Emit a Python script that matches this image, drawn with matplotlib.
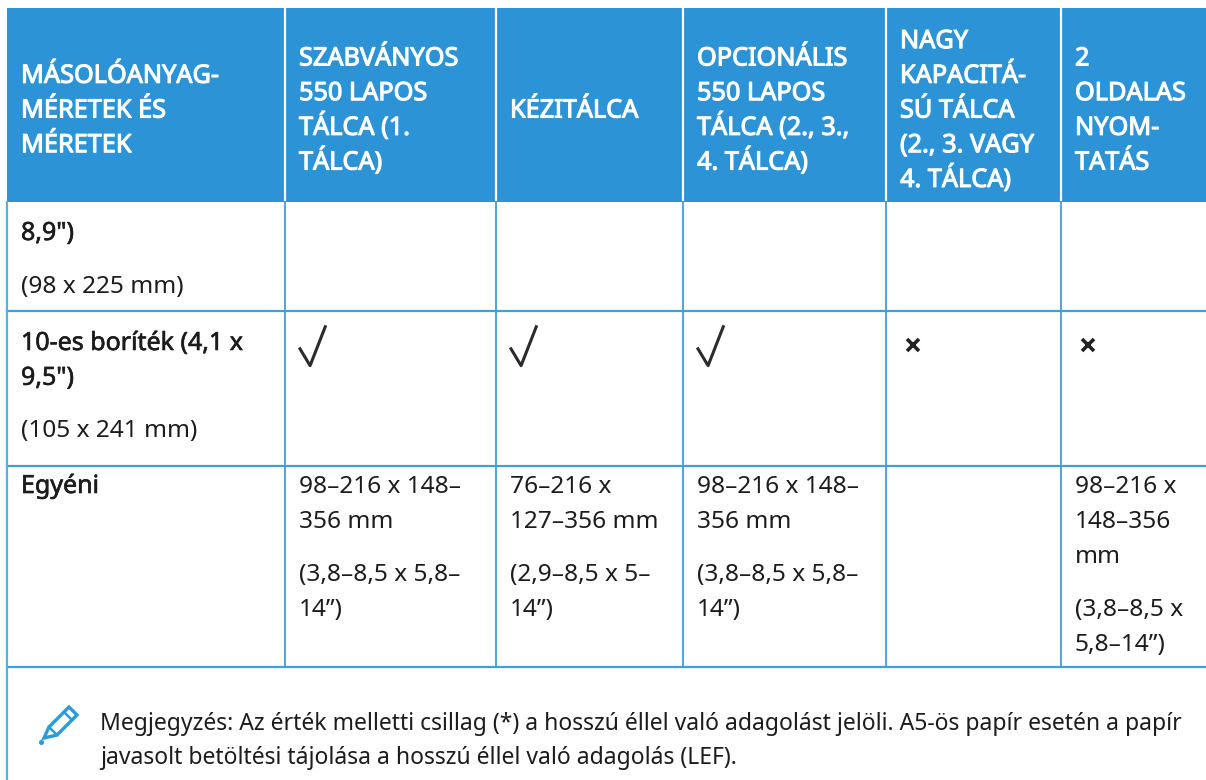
import matplotlib
matplotlib.use("Agg")
import matplotlib.pyplot as plt
import matplotlib.patches as patches
import matplotlib.patheffects as pe
from matplotlib.path import Path

plt.rcParams['font.family'] = ['Noto Sans', 'DejaVu Sans']

BLUE = '#2b93d6'
LINE = '#3f9edb'
INK = '#1c1c1c'

# table content
header_lines = [
    ["MÁSOLÓANYAG-", "MÉRETEK ÉS", "MÉRETEK"],
    ["SZABVÁNYOS", "550 LAPOS", "TÁLCA (1.", "TÁLCA)"],
    ["KÉZITÁLCA"],
    ["OPCIONÁLIS", "550 LAPOS", "TÁLCA (2., 3.,", "4. TÁLCA)"],
    ["NAGY", "KAPACITÁ-", "SÚ TÁLCA", "(2., 3. VAGY", "4. TÁLCA)"],
    ["2", "OLDALAS", "NYOM-", "TATÁS"],
]
first_row_name = ['8,9")']
first_row_size = "(98 x 225 mm)"
second_row_name = ['10-es boríték (4,1 x', '9,5")']
second_row_size = "(105 x 241 mm)"
second_row_marks = ['check', 'check', 'check', 'cross', 'cross']
custom_name = "Egyéni"
custom_cells = [
    (["98–216 x 148–", "356 mm"], ["(3,8–8,5 x 5,8–", "14”)"]),
    (["76–216 x", "127–356 mm"], ["(2,9–8,5 x 5–", "14”)"]),
    (["98–216 x 148–", "356 mm"], ["(3,8–8,5 x 5,8–", "14”)"]),
    ([], []),
    (["98–216 x", "148–356", "mm"], ["(3,8–8,5 x", "5,8–14”)"]),
]
note_lines = [
    "Megjegyzés: Az érték melletti csillag (*) a hosszú éllel való adagolást jelöli. A5-ös papír esetén a papír",
    "javasolt betöltési tájolása a hosszú éllel való adagolás (LEF).",
]

# layout, in pixels of the page
W, H = 1206, 780
col_edges = [7, 285, 496, 683, 886, 1061, 1206]
row_edges = [8, 202, 311, 466, 667]
PAD = 14
LINE_STEP = 34.8
PARA_GAP = 18.5
BODY_SIZE = 17.6
NAME_SIZE = 18.0
NOTE_SIZE = 16.5
HEAD_SIZE = 18.2
MARK_OFFSET = 27
ICON = '#2a9ad8'

fig = plt.figure(figsize=(W / 100, H / 100), dpi=100)
ax = fig.add_axes([0, 0, 1, 1])
ax.set_xlim(0, W)
ax.set_ylim(H, 0)
ax.axis('off')

# header band with white separators
ax.add_patch(patches.Rectangle((col_edges[0], row_edges[0]), W - col_edges[0], row_edges[1] - row_edges[0],
                               facecolor=BLUE, edgecolor='none', zorder=1))
for x in col_edges[1:-1]:
    ax.plot([x, x], [row_edges[0], row_edges[1] - 2], color='white', lw=1.6, zorder=2)

# grid
for y in row_edges[2:]:
    ax.plot([col_edges[0], W], [y, y], color=LINE, lw=1.6, zorder=2)
for x in col_edges[1:-1]:
    ax.plot([x, x], [row_edges[1], row_edges[4]], color=LINE, lw=1.3, zorder=2)
ax.plot([col_edges[0], col_edges[0]], [row_edges[1], H], color='#5aaee0', lw=1.6, zorder=2)

# header text
for left, lines in zip(col_edges, header_lines):
    mid = (len(lines) - 1) / 2
    for i, line in enumerate(lines):
        t = ax.text(left + PAD, 117.5 + (i - mid) * 34.7, line, color='white', fontsize=HEAD_SIZE,
                    va='baseline', ha='left')
        t.set_path_effects([pe.withStroke(linewidth=0.8, foreground='white')])


def body(x, y, s, strong=False):
    t = ax.text(x, y, s, color=INK, fontsize=NAME_SIZE if strong else BODY_SIZE, va='baseline', ha='left')
    if strong:
        t.set_path_effects([pe.withStroke(linewidth=0.45, foreground=INK)])


# row 1
body(col_edges[0] + PAD, 240, first_row_name[0], True)
body(col_edges[0] + PAD, 293, first_row_size)

# row 2
for i, line in enumerate(second_row_name):
    body(col_edges[0] + PAD, 350 + i * LINE_STEP, line, True)
body(col_edges[0] + PAD, 437, second_row_size)

check = Path([(-0.33, -0.05), (-0.06, -0.5), (0.33, 0.5)], [Path.MOVETO, Path.LINETO, Path.LINETO])
for left, mark in zip(col_edges[1:], second_row_marks):
    if mark == 'check':
        ax.plot([left + MARK_OFFSET], [345], marker=check, ms=29, mew=2.2, mfc='none', mec='#2b2b2b',
                ls='none', zorder=3)
    else:
        ax.plot([left + MARK_OFFSET], [345], marker='x', ms=8.5, mew=2.6, color='#222222', ls='none', zorder=3)

# custom size row
body(col_edges[0] + PAD, 493, custom_name, True)
for left, (mm, inch) in zip(col_edges[1:], custom_cells):
    y = 493
    for line in mm:
        body(left + PAD, y, line)
        y += LINE_STEP
    y += PARA_GAP
    for line in inch:
        body(left + PAD, y, line)
        y += LINE_STEP

# note
for i, line in enumerate(note_lines):
    ax.text(100, 730 + i * 34, line, color=INK, fontsize=NOTE_SIZE, va='baseline', ha='left')

# pencil icon
ax.add_patch(patches.Polygon([(44, 738), (49, 727), (69, 707), (77, 715), (57, 735)], closed=True,
                             fill=False, edgecolor=ICON, lw=2.4, zorder=3))
ax.plot([49, 57], [727, 735], color=ICON, lw=1.8, zorder=3)
ax.plot([64, 72], [712, 720], color=ICON, lw=1.8, zorder=3)
ax.plot([41], [742], marker='o', ms=2.6, color=ICON, zorder=3)

fig.savefig('out.png', dpi=100)
